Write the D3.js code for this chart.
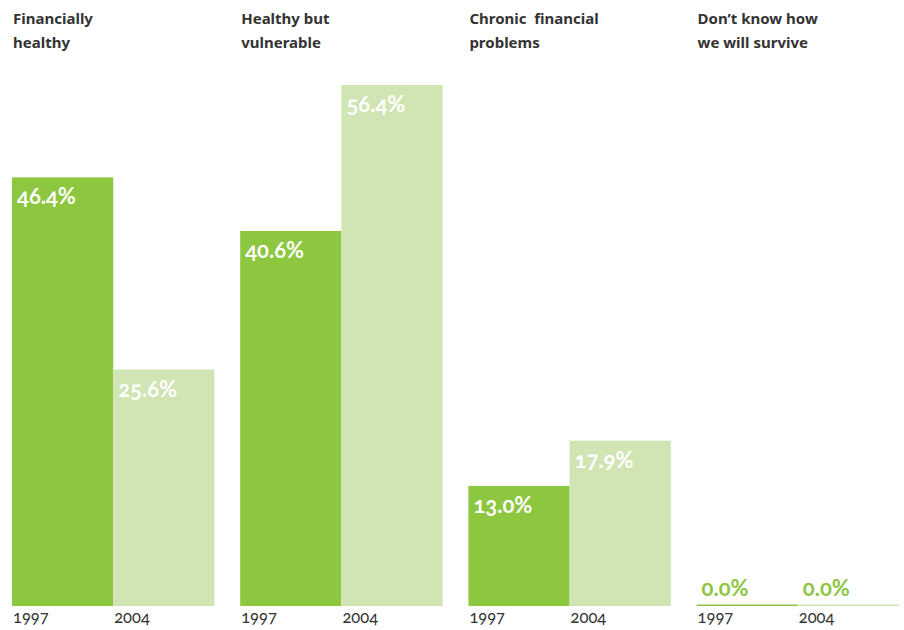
<!DOCTYPE html>
<html lang="en">
    <head>
        <meta charset="utf-8">
        <title>Financial health 1997 vs 2004</title>
        <script type="text/javascript" src="https://d3js.org/d3.v7.min.js"></script>
        <style type="text/css">
            body { margin: 0; background: #fff; }
            text { font-family: "Noto Sans", sans-serif; }
            .title { font-size: 15px; font-weight: bold; fill: #333; white-space: pre; }
            .year { font-family: Lato, "Noto Sans", sans-serif; font-size: 16.5px; fill: #333; font-feature-settings: "onum" 1; }
            .val { font-family: Lato, "Noto Sans", sans-serif; font-size: 22px; font-weight: bold; fill: #fff; font-feature-settings: "onum" 1; }
        </style>
    </head>
    <body>
        <script type="text/javascript">

        // Data
        var categories = ["Financially healthy", "Healthy but vulnerable", "Chronic  financial problems", "Don\u2019t know how we will survive"];
        var titleLines = [["Financially", "healthy"], ["Healthy but", "vulnerable"], ["Chronic  financial", "problems"], ["Don\u2019t know how", "we will survive"]];
        var years = ["1997", "2004"];
        var values1997 = [46.4, 40.6, 13.0, 0.0];
        var values2004 = [25.6, 56.4, 17.9, 0.0];

        var w = 904;
        var h = 630;
        var baseline = 606;
        var colors = {"1997": "#8dc63f", "2004": "#d1e4b3"};

        var svg = d3.select("body")
                    .append("svg")
                    .attr("width", w)
                    .attr("height", h);

        // Scales
        var x0 = d3.scaleBand()
                   .domain(categories)
                   .range([12, 899])
                   .paddingInner(0.113)
                   .paddingOuter(0);

        var x1 = d3.scaleBand()
                   .domain(years)
                   .range([0, x0.bandwidth()]);

        var y = d3.scaleLinear()
                  .domain([0, 56.4])
                  .range([baseline, 85]);

        var rows = categories.map(function(c, i){
            return {cat: c, lines: titleLines[i], bars: [
                {year: "1997", v: values1997[i]},
                {year: "2004", v: values2004[i]}
            ]};
        });

        var groups = svg.selectAll("g.grp")
                        .data(rows)
                        .enter()
                        .append("g")
                        .attr("class", "grp")
                        .attr("transform", function(d){ return "translate(" + x0(d.cat) + ",0)"; });

        // Titles
        groups.append("text")
              .attr("class", "title")
              .attr("x", 1)
              .attr("y", 24)
              .selectAll("tspan")
              .data(function(d){ return d.lines; })
              .enter()
              .append("tspan")
              .attr("x", 1)
              .attr("dy", function(d, i){ return i ? 24 : 0; })
              .text(function(d){ return d; });

        var bars = groups.selectAll("g.bar")
                         .data(function(d){ return d.bars; })
                         .enter()
                         .append("g")
                         .attr("class", "bar");

        // Bars (zero values still get a thin line at the baseline)
        bars.append("rect")
            .attr("x", function(d){ return x1(d.year); })
            .attr("width", x1.bandwidth())
            .attr("y", function(d){ return d.v > 0 ? y(d.v) : baseline - 1.5; })
            .attr("height", function(d){ return d.v > 0 ? baseline - y(d.v) : 1.5; })
            .attr("fill", function(d){ return colors[d.year]; });

        // Value labels
        bars.append("text")
            .attr("class", "val")
            .attr("x", function(d){ return x1(d.year) + 5; })
            .attr("y", function(d){ return d.v > 0 ? y(d.v) + 27 : baseline - 10; })
            .style("fill", function(d){ return d.v > 0 ? "#fff" : "#8dc63f"; })
            .text(function(d){ return d.v.toFixed(1) + "%"; });

        // Year labels
        bars.append("text")
            .attr("class", "year")
            .attr("x", function(d){ return x1(d.year) + 1; })
            .attr("y", 623)
            .text(function(d){ return d.year; });
        </script>
    </body>
</html>
